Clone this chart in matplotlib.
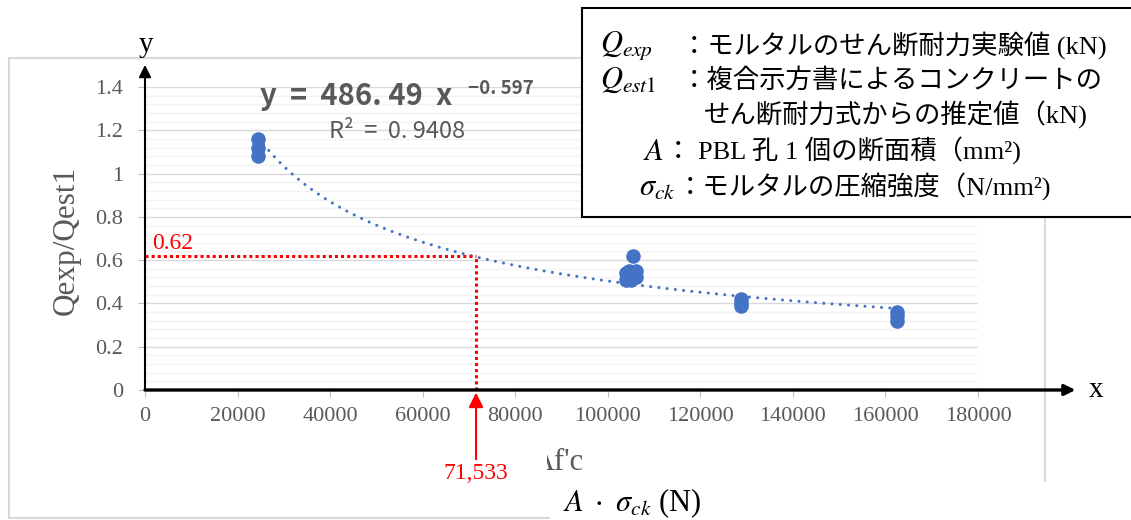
import numpy as np
import matplotlib
matplotlib.use("Agg")
import matplotlib.pyplot as plt
from matplotlib.patches import Rectangle

plt.rcParams['mathtext.fontset'] = 'stix'

# data (x = A*f'c in N, y = Qexp/Qest1)
x_vals = [24500, 24500, 24500,
          104000, 104500, 105500, 106000, 104000, 105000, 106000, 105500,
          128700, 128700, 128700,
          162600, 162600, 162600]
y_vals = [1.16, 1.12, 1.08,
          0.54, 0.55, 0.54, 0.55, 0.51, 0.51, 0.52, 0.62,
          0.42, 0.40, 0.39,
          0.36, 0.34, 0.32]

# power trendline as printed on the chart
trend_a = 486.49
trend_b = -0.597
trend_range = (24500, 162600)

x_ticks = list(range(0, 180001, 20000))
y_ticks = [0, 0.2, 0.4, 0.6, 0.8, 1.0, 1.2, 1.4]
y_ticklabels = ["0", "0.2", "0.4", "0.6", "0.8", "1", "1.2", "1.4"]

x_mark = 71533
y_mark = 0.62

W, H = 1131, 520
GRAY = "#595959"
BLUE = "#4472C4"
RED = "#FF0000"
SERIF = ['Liberation Serif', 'Noto Sans CJK JP']
CJK = ['Liberation Serif', 'Noto Sans CJK JP']


def fx(px):
    return px / W


def fy(py):
    return 1 - py / H


fig = plt.figure(figsize=(W / 100, H / 100), dpi=100)

# chart area border
fig.patches.append(Rectangle((fx(9), fy(518)), fx(1045) - fx(9), fy(58) - fy(518),
                             transform=fig.transFigure, fill=False,
                             edgecolor="#D9D9D9", lw=1.5, zorder=-1))

ax = fig.add_axes([fx(145), fy(390), fx(978) - fx(145), fy(87) - fy(390)])
ax.set_xlim(0, 180000)
ax.set_ylim(0, 1.4)
for s in ax.spines.values():
    s.set_visible(False)

ax.set_yticks(y_ticks)
ax.set_yticklabels(y_ticklabels)
ax.set_yticks(np.arange(0, 1.4001, 0.04), minor=True)
ax.set_xticks(x_ticks)
ax.set_xticklabels([str(v) for v in x_ticks])
ax.grid(axis='y', which='major', color="#D9D9D9", lw=1)
ax.grid(axis='y', which='minor', color="#F2F2F2", lw=1)
ax.tick_params(axis='y', which='minor', length=0)
ax.tick_params(axis='both', which='major', color="#BFBFBF", length=5,
               labelcolor=GRAY, labelsize=16)
ax.tick_params(axis='y', pad=11)
ax.tick_params(axis='x', pad=7)
for lab in ax.get_xticklabels() + ax.get_yticklabels():
    lab.set_family(SERIF)
ax.set_axisbelow(True)

# axes with arrows
ax.annotate('', xy=(0, 1.073), xytext=(0, 0), xycoords='axes fraction',
            arrowprops=dict(arrowstyle='-|>', color='black', lw=1.5,
                            mutation_scale=18, shrinkA=0, shrinkB=0),
            annotation_clip=False, zorder=5)
ax.annotate('', xy=(1.117, 0), xytext=(0, 0), xycoords='axes fraction',
            arrowprops=dict(arrowstyle='-|>', color='black', lw=2.4,
                            mutation_scale=16, shrinkA=0, shrinkB=0),
            annotation_clip=False, zorder=5)
fig.text(fx(146), fy(45), "y", family=SERIF, fontsize=21, ha='center', va='center')
fig.text(fx(1096), fy(390), "x", family=SERIF, fontsize=21, ha='center', va='center')

# trendline
tx = np.linspace(trend_range[0], trend_range[1], 200)
ax.plot(tx, trend_a * tx ** trend_b, color=BLUE, lw=2.2,
        linestyle=(0, (0.01, 2.7)), dash_capstyle='round', zorder=3)

ax.scatter(x_vals, y_vals, s=110, color=BLUE, zorder=4, linewidths=0)

# red guide lines
ax.plot([0, x_mark], [y_mark, y_mark], color=RED, lw=2.2,
        linestyle=(0, (1, 1)), zorder=3.5)
ax.plot([x_mark, x_mark], [0, y_mark], color=RED, lw=2.2,
        linestyle=(0, (1, 1)), zorder=3.5)
ax.text(1500, 0.65, f"{y_mark:.2f}", color=RED, family=SERIF, fontsize=17,
        va='baseline', ha='left')
ax.annotate('', xy=(x_mark, -0.012), xytext=(x_mark, -0.32), xycoords='data',
            arrowprops=dict(arrowstyle='-|>', color=RED, lw=1.5,
                            mutation_scale=22, shrinkA=0, shrinkB=0),
            annotation_clip=False, zorder=6)
ax.text(x_mark, -0.385, f"{x_mark:,}", color=RED, family=SERIF, fontsize=17,
        ha='center', va='center', clip_on=False)

# equation
fig.text(fx(260), fy(96), "y  =  486. 49  x", family=['Noto Sans CJK JP'],
         fontsize=21, fontweight='bold', color=GRAY, ha='left', va='center')
fig.text(fx(468), fy(88), "\u22120. 597", family=['Noto Sans CJK JP'],
         fontsize=13.5, fontweight='bold', color=GRAY, ha='left', va='center')
fig.text(fx(329), fy(131), "R\u00b2  =  0. 9408", family=['Noto Sans CJK JP'],
         fontsize=17, color=GRAY, ha='left', va='center')

# axis titles
fig.text(fx(66), fy(240), "Qexp/Qest1", family=SERIF, fontsize=22.5, color=GRAY,
         rotation=90, ha='center', va='center')
fig.text(fx(533), fy(462), "Af'c", family=SERIF, fontsize=22, color=GRAY,
         ha='left', va='center', zorder=2)
fig.patches.append(Rectangle((fx(508), fy(485)), fx(547) - fx(508), fy(445) - fy(485),
                             transform=fig.transFigure, facecolor='white',
                             edgecolor='none', zorder=3))
fig.patches.append(Rectangle((fx(550), fy(520)), fx(1131) - fx(550), fy(482) - fy(520),
                             transform=fig.transFigure, facecolor='white',
                             edgecolor='none', zorder=3))
fig.text(fx(563), fy(503), r"$A\ \cdot\ \sigma_{ck}$ (N)", family=SERIF,
         fontsize=22, ha='left', va='center', zorder=4)

# note box
fig.patches.append(Rectangle((fx(582), fy(217)), fx(1140) - fx(582), fy(8) - fy(217),
                             transform=fig.transFigure, facecolor='white',
                             edgecolor='black', lw=1.5, zorder=5))
fs = 19
rows = [
    (fy(45), r"$Q_{exp}$", 600, 'left', "：モルタルのせん断耐力実験値 (kN)", 681),
    (fy(80), r"$Q_{est1}$", 600, 'left', "：複合示方書によるコンクリートの", 681),
    (fy(115), None, None, None, "せん断耐力式からの推定値（kN)", 704),
    (fy(151), r"$A$", 664, 'right', "： PBL 孔 1 個の断面積（mm²)", 665),
    (fy(187), r"$\sigma_{ck}$", 676, 'right', "：モルタルの圧縮強度（N/mm²)", 677),
]
for yy, sym, sx, sha, body, bx in rows:
    if sym:
        fig.text(fx(sx), yy, sym, fontsize=22, ha=sha, va='center', zorder=6)
    fig.text(fx(bx), yy, body, family=CJK, fontsize=fs, ha='left', va='center',
             zorder=6)

fig.savefig("out.png", dpi=100)
